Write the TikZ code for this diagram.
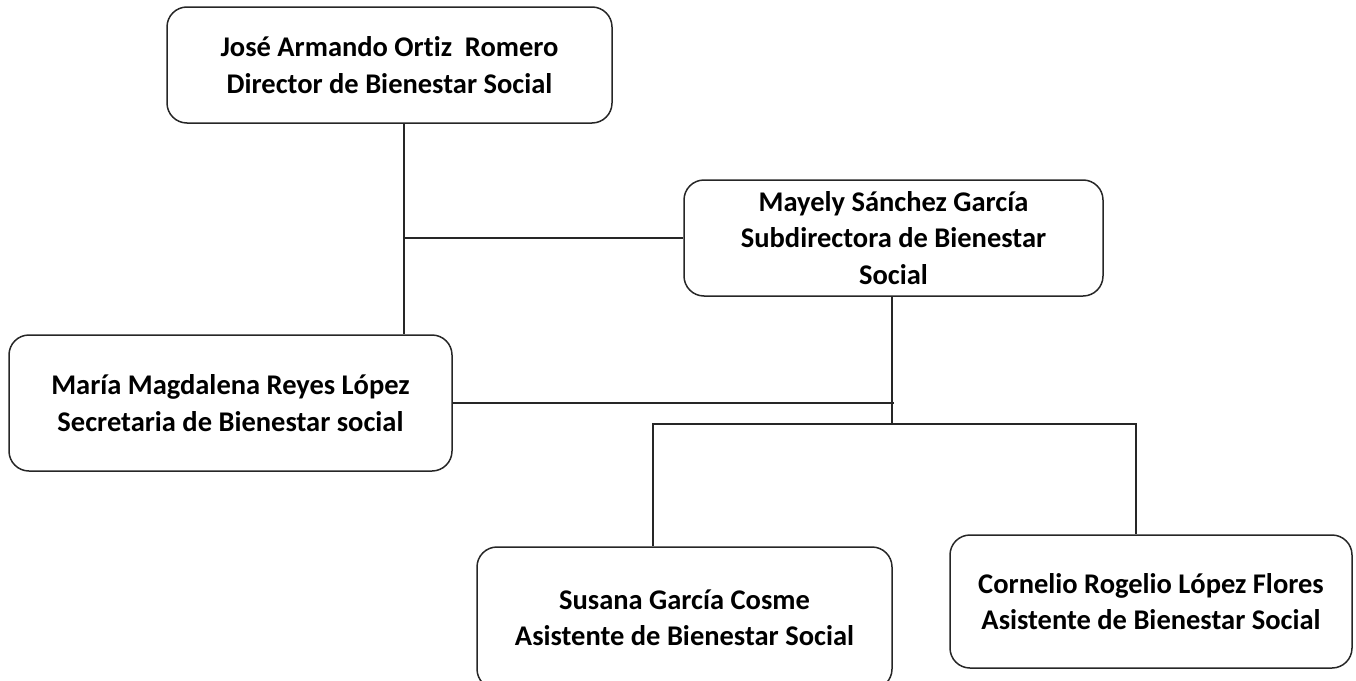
\documentclass[tikz,border=0pt]{standalone}
\usepackage{fontspec}
\setmainfont{Carlito}[Ligatures={NoCommon}]
\begin{document}
\begin{tikzpicture}[x=1pt,y=-1pt,
  box/.style={draw=black!85,line width=1.5pt,rounded corners=20pt,align=center,
    font=\fontsize{28.5}{36.5}\selectfont\bfseries,inner sep=0pt},
  conn/.style={draw=black!85,line width=1.5pt}]
\useasboundingbox (0,0) rectangle (1356,680);
\clip (0,0) rectangle (1356,680);
\node[box,minimum width=445pt,minimum height=116pt] (d) at (389.5,65) {José Armando Ortiz~~Romero\\Director de Bienestar Social};
\node[box,minimum width=419pt,minimum height=116pt] (s) at (893.5,238) {Mayely Sánchez García\\Subdirectora de Bienestar\\Social};
\node[box,minimum width=443pt,minimum height=136pt] (m) at (230.5,403) {María Magdalena Reyes López\\Secretaria de Bienestar social};
\node[box,minimum width=415pt,minimum height=142pt] (a4) at (684.5,618) {Susana García Cosme\\Asistente de Bienestar Social};
\node[box,minimum width=402pt,minimum height=133pt] (a5) at (1151,601.5) {Cornelio Rogelio López Flores\\Asistente de Bienestar Social};
\coordinate (ja) at (404,238);
\coordinate (jb) at (892,424);
\coordinate (c1) at (653,424);
\coordinate (c2) at (1136,424);
\draw[conn] (ja |- d.south) -- (ja |- m.north);
\draw[conn] (ja) -- (s.west);
\draw[conn] (jb |- s.south) -- (jb);
\draw[conn] (m.east) -- ([xshift=2pt]m.east -| jb);
\draw[conn] (c1 |- a4.north) -- (c1) -- (c2) -- (c2 |- a5.north);
\end{tikzpicture}
\end{document}
